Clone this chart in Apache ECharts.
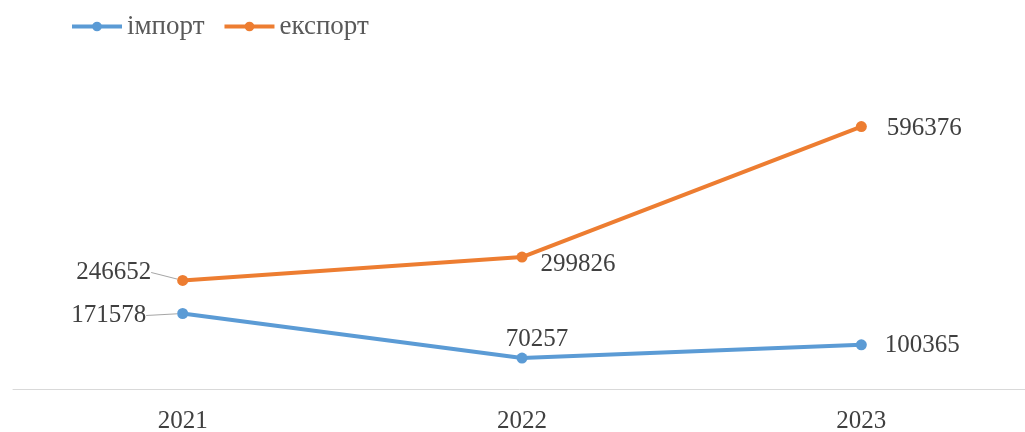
<!DOCTYPE html>
<html>
<head>
<meta charset="utf-8">
<script src="https://cdn.jsdelivr.net/npm/echarts@6/dist/echarts.min.js"></script>
<style>
  html, body { margin: 0; padding: 0; background: #ffffff; }
  #chart { width: 1025px; height: 432px; }
</style>
</head>
<body>
<div id="chart"></div>
<script>
// Years on the category axis
const years = ['2021', '2022', '2023'];
// Import and export volumes per year
const importValues = [171578, 70257, 100365];
const exportValues = [246652, 299826, 596376];
const seriesNames = ['імпорт', 'експорт'];

const serif = '"Liberation Serif", "Times New Roman", serif';
const labelBase = { show: true, fontFamily: serif, fontSize: 25, color: '#404040' };

// Per-point label placement for each series
const importLabels = [
  { position: 'left', distance: 6 },
  { position: 'top', distance: 7 },
  { position: 'right', distance: 18 }
];
const exportLabels = [
  { position: 'left', distance: 6 },
  { position: 'right', distance: 13 },
  { position: 'right', distance: 20 }
];
// Extra label shifts; the first-year labels get a leader line back to their point
const importShift = [{ dx: -25, dy: 2 }, { dx: 15, dy: 6 }, { dx: 0, dy: 1 }];
const exportShift = [{ dx: -20, dy: -8 }, { dx: 0, dy: 7 }, { dx: 0, dy: 2 }];

function buildData(values, labels) {
  return values.map((v, i) => ({
    value: v,
    label: labels[i],
    labelLine: { show: i === 0, lineStyle: { color: '#a6a6a6', width: 1 } }
  }));
}

const chart = echarts.init(document.getElementById('chart'));
chart.setOption({
  animation: false,
  backgroundColor: '#ffffff',
  legend: {
    left: 65,
    top: 8,
    itemWidth: 50,
    itemHeight: 12,
    itemGap: 18,
    lineStyle: { width: 4 },
    textStyle: { fontFamily: serif, fontSize: 27, color: '#595959' },
    data: seriesNames
  },
  grid: { left: 13, width: 1018, top: 81, bottom: 43, outerBoundsMode: 'none' },
  xAxis: {
    type: 'category',
    data: years,
    boundaryGap: true,
    axisLine: { lineStyle: { color: '#d9d9d9', width: 1 } },
    axisTick: { show: false },
    axisLabel: { fontFamily: serif, fontSize: 25, color: '#404040', margin: 20 }
  },
  yAxis: {
    type: 'value',
    min: 0,
    max: 700000,
    show: false,
    splitLine: { show: false }
  },
  series: [
    {
      name: seriesNames[0],
      type: 'line',
      data: buildData(importValues, importLabels),
      symbol: 'circle',
      symbolSize: 11,
      lineStyle: { color: '#5B9BD5', width: 4 },
      itemStyle: { color: '#5B9BD5' },
      label: labelBase,
      labelLayout: (p) => importShift[p.dataIndex]
    },
    {
      name: seriesNames[1],
      type: 'line',
      data: buildData(exportValues, exportLabels),
      symbol: 'circle',
      symbolSize: 11,
      lineStyle: { color: '#ED7D31', width: 4 },
      itemStyle: { color: '#ED7D31' },
      label: labelBase,
      labelLayout: (p) => exportShift[p.dataIndex]
    }
  ]
});
</script>
</body>
</html>
